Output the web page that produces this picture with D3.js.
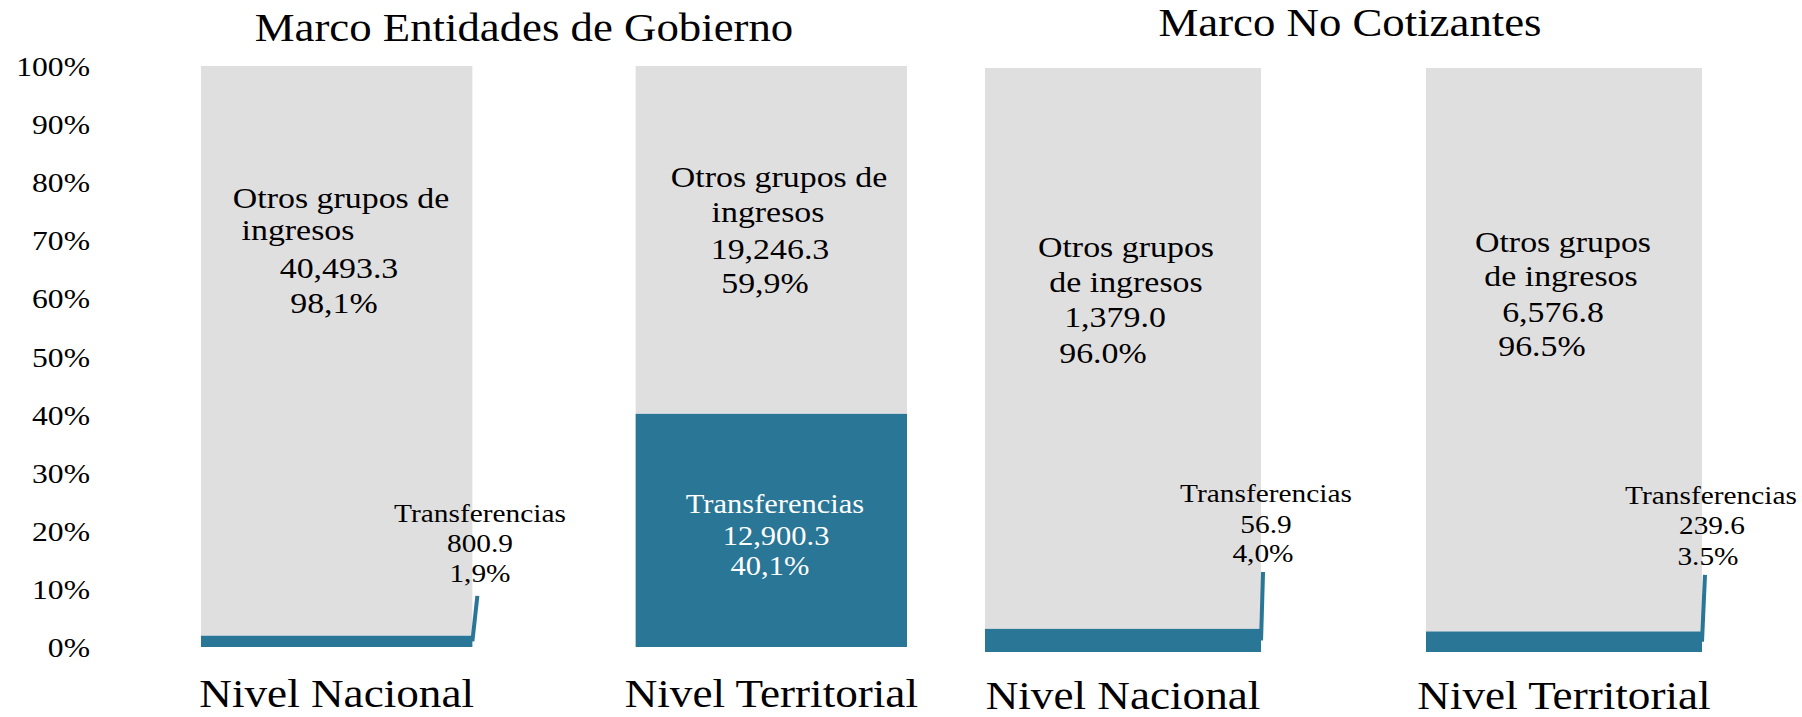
<!DOCTYPE html>
<html>
<head>
<meta charset="utf-8">
<script src="https://cdn.jsdelivr.net/npm/d3@7"></script>
<style>
  html, body { margin: 0; padding: 0; background: #ffffff; }
</style>
</head>
<body>
<svg id="chart" width="1802" height="717"></svg>
<script>
// ---------------- data ----------------
const panels = ["Marco Entidades de Gobierno", "Marco No Cotizantes"];
const categories = ["Nivel Nacional", "Nivel Territorial"];
const transferencias = [[800.9, 12900.3], [56.9, 239.6]];
const otrosGrupos = [[40493.3, 19246.3], [1379.0, 6576.8]];
const pctTransfer = [["1,9%", "40,1%"], ["4,0%", "3.5%"]];
const pctOtros = [["98,1%", "59,9%"], ["96.0%", "96.5%"]];
const otrosNames = [
  [["Otros grupos de", "ingresos"], ["Otros grupos de", "ingresos"]],
  [["Otros grupos", "de ingresos"], ["Otros grupos", "de ingresos"]]
];
const transferName = "Transferencias";
const yTicks = [0, 0.1, 0.2, 0.3, 0.4, 0.5, 0.6, 0.7, 0.8, 0.9, 1.0];

// ---------------- layout ----------------
const FONT = "'Liberation Serif', 'Times New Roman', Times, serif";
const COL_BLUE = "#2a7697";
const COL_GREY = "#e0dfe0";
const SX = 1.13; // horizontal text stretch seen in the reference
const panelLayout = [
  { x0: 201, x1: 907, top: 66, bottom: 647, titleX: 524, titleY: 41, catY: 707, pad: 0.3756 },
  { x0: 985, x1: 1702, top: 68, bottom: 652, titleX: 1350, titleY: 36, catY: 709, pad: 0.374 }
];
// label line positions [centerX, baseline]
const otrosLabelPos = [
  [[[341, 208], [298, 240], [339, 278], [334, 313]], [[779, 187], [768, 222], [770, 259], [765, 293]]],
  [[[1126, 257], [1126, 292], [1115, 327], [1103, 363]], [[1563, 252], [1561, 286], [1553, 322], [1542, 356]]]
];
const transferLabelPos = [
  [[[480, 522], [480, 552], [480, 582]], [[775, 513], [776, 545], [770, 575]]],
  [[[1266, 502], [1266, 533], [1263, 562]], [[1711, 504], [1712, 534], [1708, 565]]]
];
// leader lines (only for small segments): [dx at top, top share level]
const leader = [[{ dx: 5, top: 0.088 }, null], [{ dx: 2, top: 0.137 }, { dx: 3, top: 0.132 }]];

const svg = d3.select("#chart");
const fmt = d3.format(",.1f");

function txt(sel, x, y, s, size, fill, anchor, sx) {
  return sel.append("text")
    .attr("transform", `translate(${x},${y}) scale(${sx || SX},1)`)
    .attr("text-anchor", anchor || "middle")
    .attr("font-family", FONT)
    .style("font-family", FONT)
    .attr("font-size", size)
    .attr("fill", fill || "#000")
    .text(s);
}

panels.forEach((title, p) => {
  const L = panelLayout[p];
  const x = d3.scaleBand().domain(categories).range([L.x0, L.x1]).paddingInner(L.pad).paddingOuter(0);
  const y = d3.scaleLinear().domain([0, 1]).range([L.bottom, L.top]);
  const g = svg.append("g");

  if (p === 0) {
    yTicks.forEach(t => {
      txt(g, 90, y(t) + 10, d3.format(".0%")(t), 28, "#000", "end");
    });
  }

  categories.forEach((c, i) => {
    const tVal = transferencias[p][i];
    const oVal = otrosGrupos[p][i];
    const share = tVal / (tVal + oVal);
    const bx = x(c), bw = x.bandwidth();

    g.append("rect").attr("x", bx).attr("width", bw)
      .attr("y", y(1)).attr("height", y(share) - y(1))
      .attr("fill", COL_GREY);
    g.append("rect").attr("x", bx).attr("width", bw)
      .attr("y", y(share)).attr("height", y(0) - y(share))
      .attr("fill", COL_BLUE);

    const ld = leader[p][i];
    if (ld) {
      g.append("line")
        .attr("x1", bx + bw).attr("y1", (y(share) + y(0)) / 2)
        .attr("x2", bx + bw + ld.dx).attr("y2", y(ld.top))
        .attr("stroke", COL_BLUE).attr("stroke-width", 4);
    }

    const oLines = otrosNames[p][i].concat([fmt(oVal), pctOtros[p][i]]);
    oLines.forEach((s, k) => {
      const pos = otrosLabelPos[p][i][k];
      txt(g, pos[0], pos[1], s, 30, "#000");
    });

    const inside = share > 0.2;
    const tLines = [transferName, fmt(tVal), pctTransfer[p][i]];
    tLines.forEach((s, k) => {
      const pos = transferLabelPos[p][i][k];
      txt(g, pos[0], pos[1], s, inside ? 27 : 26, inside ? "#fff" : "#000");
    });

    txt(g, bx + bw / 2, L.catY, c, 40, "#000");
  });

  txt(g, L.titleX, L.titleY, title, 40, "#000", "middle", 1.12);
});
</script>
</body>
</html>
